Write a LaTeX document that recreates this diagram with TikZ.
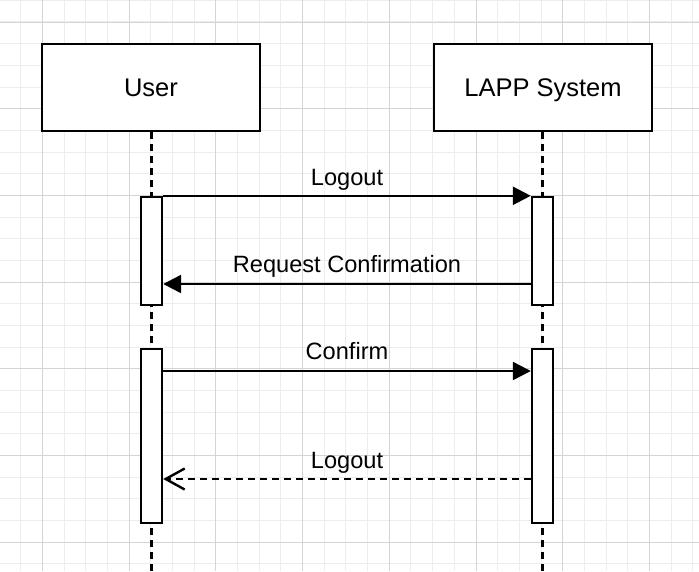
\documentclass[tikz,border=0pt]{standalone}
\usepackage{fontspec}
\setmainfont{Liberation Sans}
\usetikzlibrary{arrows.meta}
\begin{document}
\begin{tikzpicture}[x=1pt,y=-1pt,
  actor/.style={draw=black,line width=2.6pt,fill=white,minimum width=218pt,minimum height=87pt,inner sep=0pt,font=\fontsize{25.5}{30}\selectfont},
  actbar/.style={draw=black,line width=2.4pt,fill=white,minimum width=21pt,inner sep=0pt},
  lifeline/.style={line width=2.4pt,dash pattern=on 7pt off 5pt},
  msg/.style={line width=2.4pt},
  lbl/.style={anchor=base,inner sep=0pt,font=\fontsize{23.6}{28}\selectfont},
  solidtip/.style={-{Triangle[length=18pt,width=18pt]}},
  opentip/.style={-{Straight Barb[length=19pt,width=21pt,line width=2.4pt]}}
]
\useasboundingbox (0,0) rectangle (699,571);
\fill[white] (0,0) rectangle (699,571);
\begin{scope}
\clip (0,0) rectangle (699,571);
\foreach \i in {0,...,33} \draw[line width=1pt,color=black!7] (-0.85+\i*21.675,0) -- (-0.85+\i*21.675,571);
\foreach \i in {0,...,27} \draw[line width=1pt,color=black!7] (0,0.3+\i*21.675) -- (699,0.3+\i*21.675);
\foreach \i in {0,...,8} \draw[line width=1pt,color=black!17] (-44.2+\i*86.7,0) -- (-44.2+\i*86.7,571);
\foreach \i in {0,...,7} \draw[line width=1pt,color=black!17] (0,22+\i*86.7) -- (699,22+\i*86.7);
\end{scope}

\node[actor] (user) at (151,87.5) {};
\node[actor] (sys) at (543,87.5) {};
\node[anchor=base,inner sep=0pt,font=\fontsize{25.5}{30}\selectfont] (usert) at (151,96.5) {User};
\node[anchor=base,inner sep=0pt,font=\fontsize{25.5}{30}\selectfont] (syst) at (543,96.5) {LAPP System};

\coordinate (uend) at (151.5,571);
\coordinate (send) at (542.5,571);
\draw[lifeline] (user.south -| uend) -- (uend);
\draw[lifeline] (sys.south -| send) -- (send);

\node[actbar,minimum height=108pt] (ua1) at (151.5,251) {};
\node[actbar,minimum height=174pt] (ua2) at (151.5,436) {};
\node[actbar,minimum height=108pt] (sa1) at (542.5,251) {};
\node[actbar,minimum height=174pt] (sa2) at (542.5,436) {};

\coordinate (m2s) at (sa1.west |- 0,284);
\coordinate (m2e) at (ua1.east |- 0,284);
\coordinate (m3s) at (ua2.east |- 0,371);
\coordinate (m3e) at (sa2.west |- 0,371);
\coordinate (m4s) at (sa2.west |- 0,479);
\coordinate (m4e) at (ua2.east |- 0,479);

\draw[msg,solidtip] (ua1.north east) -- (sa1.north west);
\draw[msg,solidtip] (m2s) -- (m2e);
\draw[msg,solidtip] (m3s) -- (m3e);
\draw[msg,opentip,dash pattern=on 7pt off 5pt] (m4s) -- (m4e);

\node[lbl] (l1) at (347,185.5) {Logout};
\node[lbl] (l2) at (347,272.5) {Request Confirmation};
\node[lbl] (l3) at (347,359.5) {Confirm};
\node[lbl] (l4) at (347,468) {Logout};
\end{tikzpicture}
\end{document}
